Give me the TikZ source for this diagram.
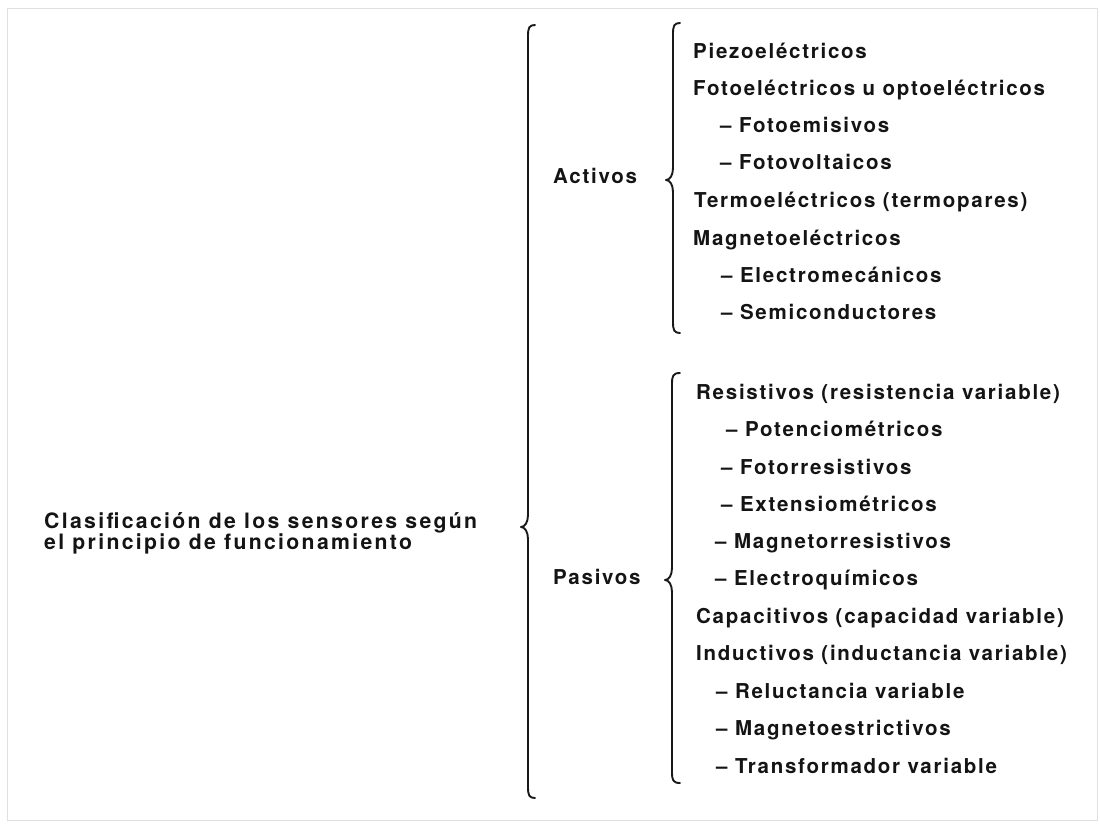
\documentclass[tikz,border=0pt]{standalone}
\usepackage{fontspec}
\setmainfont{TeX Gyre Heros}[LetterSpace=8.5]
\newfontfamily\mainlblfont{TeX Gyre Heros}[LetterSpace=11]
\usetikzlibrary{calc}
\tikzset{
  lbl/.style={anchor=base west, inner sep=0pt, text=black!92, font=\fontsize{20.5}{20}\selectfont\bfseries},
  mainlbl/.style={anchor=base west, inner sep=0pt, text=black!92, align=left, font=\mainlblfont\fontsize{21.2}{21}\selectfont\bfseries},
  bracestyle/.style={draw=black!90, line width=1.9pt, line cap=round, line join=round},
  framestyle/.style={draw=black!12, line width=0.8pt}
}
\newcommand{\drawbrace}[4]{% top, tip, bottom, curl width
  \draw[bracestyle] ($(#1)+(#4,0)$) .. controls ($(#1)+(1,0)$) and ($(#1)+(0,3)$) .. ($(#1)+(0,11)$)
   -- ($(#2)+(0,-12)$) .. controls ($(#2)+(0,-5)$) and ($(#2)+(-3,0)$) .. ($(#2)+(-7,0)$)
   .. controls ($(#2)+(-3,0)$) and ($(#2)+(0,5)$) .. ($(#2)+(0,12)$)
   -- ($(#3)+(0,-11)$) .. controls ($(#3)+(0,-3)$) and ($(#3)+(1,0)$) .. ($(#3)+(#4,0)$);
}
\begin{document}
\begin{tikzpicture}[x=1pt,y=-1pt]
\useasboundingbox (0,0) rectangle (1100,828);
\fill[white] (0,0) rectangle (1100,828);
\draw[framestyle] (7,8) rectangle (1097,820);

% main label (base anchor = baseline of last line)
\node[mainlbl] (main) at (44,549) {Clasificación de los sensores según\\el principio de funcionamiento};

% category labels
\node[lbl] (act) at (553,183) {Activos};
\node[lbl] (pas) at (553,584) {Pasivos};

% braces
\coordinate (mtop) at (528,25);
\coordinate (mtip) at (528,527);
\coordinate (mbot) at (528,798);
\drawbrace{mtop}{mtip}{mbot}{7}

\coordinate (atop) at (673,23);
\coordinate (atip) at (673,180);
\coordinate (abot) at (673,333);
\drawbrace{atop}{atip}{abot}{7}

\coordinate (ptop) at (672,373);
\coordinate (ptip) at (672,580);
\coordinate (pbot) at (672,783);
\drawbrace{ptop}{ptip}{pbot}{8}

% activos items
\node[lbl] (a1) at (693,58) {Piezoeléctricos};
\node[lbl] (a2) at (693,95) {Fotoeléctricos u optoeléctricos};
\node[lbl] (a3) at (720,132) {– Fotoemisivos};
\node[lbl] (a4) at (720,169) {– Fotovoltaicos};
\node[lbl] (a5) at (694,207) {Termoeléctricos (termopares)};
\node[lbl] (a6) at (693,245) {Magnetoeléctricos};
\node[lbl] (a7) at (721,282) {– Electromecánicos};
\node[lbl] (a8) at (721,319) {– Semiconductores};

% pasivos items
\node[lbl] (p1) at (696,399) {Resistivos (resistencia variable)};
\node[lbl] (p2) at (726,436) {– Potenciométricos};
\node[lbl] (p3) at (721,474) {– Fotorresistivos};
\node[lbl] (p4) at (721,511) {– Extensiométricos};
\node[lbl] (p5) at (715,548) {– Magnetorresistivos};
\node[lbl] (p6) at (715,585) {– Electroquímicos};
\node[lbl] (p7) at (696,623) {Capacitivos (capacidad variable)};
\node[lbl] (p8) at (696,660) {Inductivos (inductancia variable)};
\node[lbl] (p9) at (716,698) {– Reluctancia variable};
\node[lbl] (p10) at (716,735) {– Magnetoestrictivos};
\node[lbl] (p11) at (716,773) {– Transformador variable};
\end{tikzpicture}
\end{document}
